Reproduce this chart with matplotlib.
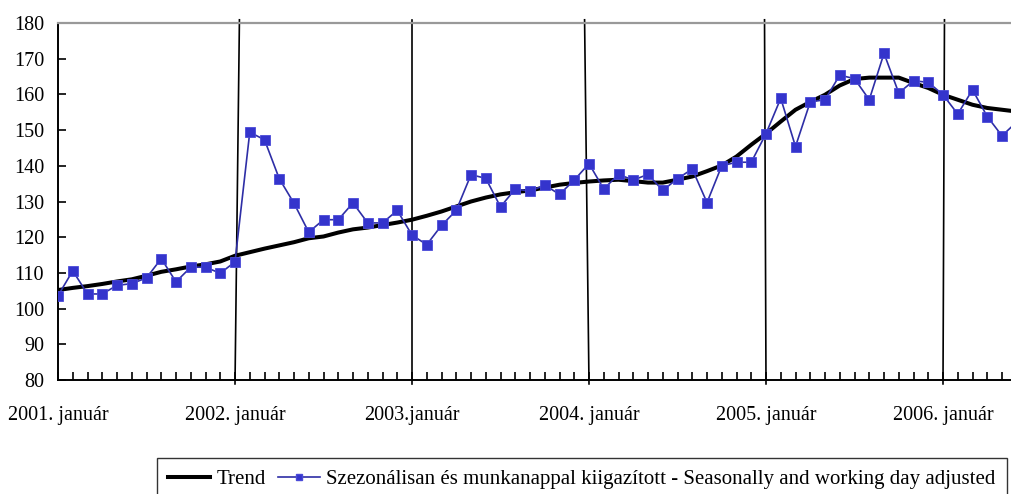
import numpy as np
import matplotlib
matplotlib.use('Agg')
import matplotlib.pyplot as plt
from matplotlib.ticker import FixedLocator
from matplotlib.lines import Line2D

plt.rcParams['font.family'] = ['Liberation Serif', 'DejaVu Serif']

# monthly index, 2001 jan = 0 ... 2006 jun = 65
n_months = 66
year_labels = ['2001. január', '2002. január', '2003.január', '2004. január',
               '2005. január', '2006. január']

# seasonally and working day adjusted
adjusted = [
    103.6, 110.6, 104.1, 104.1, 106.5, 107.0, 108.6, 114.0, 107.5, 111.6, 111.6, 109.9,
    113.1, 149.4, 147.3, 136.4, 129.5, 121.4, 124.9, 124.9, 129.6, 124.0, 124.0, 127.5,
    120.6, 117.9, 123.3, 127.5, 137.5, 136.5, 128.5, 133.5, 132.9, 134.6, 132.0, 136.0,
    140.6, 133.5, 137.6, 136.0, 137.6, 133.1, 136.4, 139.1, 129.7, 140.0, 141.0, 141.0,
    149.0, 158.9, 145.4, 157.9, 158.5, 165.4, 164.4, 158.5, 171.5, 160.4, 163.8, 163.4,
    159.9, 154.5, 161.3, 153.8, 148.4, 152.3,
]

# trend
trend = [
    105.2, 105.8, 106.3, 106.9, 107.6, 108.2, 109.2, 110.3, 111.0, 111.8, 112.4, 113.2,
    114.8, 115.8, 116.8, 117.7, 118.6, 119.7, 120.2, 121.3, 122.2, 122.7, 123.4, 124.1,
    124.9, 126.0, 127.2, 128.6, 130.0, 131.1, 132.0, 132.6, 133.1, 133.9, 134.7, 135.2,
    135.6, 135.9, 136.1, 135.7, 135.3, 135.3, 136.1, 137.0, 138.5, 140.1, 142.6, 145.9,
    149.0, 152.4, 155.7, 157.9, 159.9, 162.5, 164.3, 164.7, 164.7, 164.7, 163.2, 161.8,
    159.9, 158.5, 157.1, 156.2, 155.7, 155.2,
]

months = np.arange(n_months)
year_starts = np.arange(0, n_months, 12)
# the year separators in the original are hand drawn, slightly leaning
sep_lean = [0.0, 0.3, 0.0, -0.3, -0.1, 0.1]

fig = plt.figure(figsize=(10.12, 4.94), dpi=100)
# axes run past the right edge of the picture, as in the original
ax = fig.add_axes([58/1012, 114/494, 66*14.75/1012, 357/494])

ax.plot(months, trend, color='black', linewidth=2.9, zorder=3, solid_capstyle='round')
ax.plot(months, adjusted, color='#2e2ea6', linewidth=1.2, marker='s', markersize=7.2,
        markerfacecolor='#3434cc', markeredgecolor='#4a4ad8', markeredgewidth=0.6, zorder=4)

# year separators
for x0, lean in zip(year_starts, sep_lean):
    if x0 == 0:
        continue
    ax.plot([x0, x0 + lean], [78.9, 180.9], color='black', linewidth=1.2,
            clip_on=False, zorder=2)

ax.set_xlim(0, n_months)
ax.set_ylim(80, 180)
ax.set_yticks(np.arange(80, 181, 10))
ax.xaxis.set_major_locator(FixedLocator(year_starts))
ax.xaxis.set_minor_locator(FixedLocator(months))
ax.set_xticklabels(year_labels)

ax.tick_params(axis='x', which='both', direction='in', length=6, width=1.2, labelsize=14.5, pad=19)
ax.tick_params(axis='y', direction='in', length=6, width=1.2, labelsize=14.5, pad=10)

for side in ['left', 'bottom']:
    ax.spines[side].set_linewidth(1.4)
ax.spines['top'].set_color('#999999')
ax.spines['top'].set_linewidth(1.6)
ax.spines['right'].set_visible(False)

handles = [
    Line2D([], [], color='black', linewidth=2.9),
    Line2D([], [], color='#2e2ea6', linewidth=1.2, marker='s', markersize=5,
           markerfacecolor='#3434cc', markeredgecolor='#4a4ad8'),
]
labels = ['Trend', 'Szezonálisan és munkanappal kiigazított - Seasonally and working day adjusted']
leg = fig.legend(handles, labels, loc='upper left', bbox_to_anchor=(157/1012, 1 - 458/494),
                 ncol=2, frameon=True, fancybox=False, fontsize=15, handlelength=2.0,
                 handletextpad=0.3, columnspacing=0.6, borderpad=0.55, borderaxespad=0)
leg.get_frame().set_edgecolor('black')
leg.get_frame().set_linewidth(1.0)

fig.patch.set_facecolor('white')
fig.savefig('out.png', dpi=100, facecolor='white')
